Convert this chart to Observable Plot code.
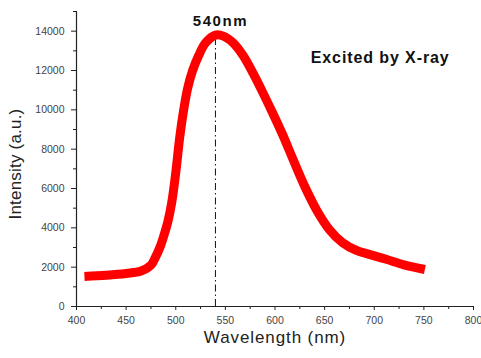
<!DOCTYPE html>
<html>
<head>
<meta charset="utf-8">
<script src="https://cdn.jsdelivr.net/npm/d3@7"></script>
<script src="https://cdn.jsdelivr.net/npm/@observablehq/plot@0.6"></script>
<style>
  html, body { margin: 0; padding: 0; background: #ffffff; }
  #chart svg { display: block; }
</style>
</head>
<body>
<div id="chart"></div>
<script>
// Emission spectrum
const wavelength = [408, 430, 450, 465, 475, 479, 484, 488, 492, 496, 500, 504, 508, 512, 517, 523, 530, 540, 548, 558, 568, 578, 588, 598, 608, 618, 630, 642, 655, 668, 682, 695, 712, 730, 751];
const intensity  = [1530, 1590, 1680, 1800, 2100, 2450, 3000, 3600, 4300, 5300, 6800, 8600, 10000, 11100, 12000, 12750, 13400, 13800, 13750, 13400, 12750, 11850, 10850, 9800, 8700, 7500, 6100, 4900, 3900, 3250, 2850, 2650, 2400, 2120, 1880];

const xMajorTicks = [400, 450, 500, 550, 600, 650, 700, 750, 800];
const xMinorTicks = [425, 475, 525, 575, 625, 675, 725, 775];
const yMajorTicks = [0, 2000, 4000, 6000, 8000, 10000, 12000, 14000];
const yMinorTicks = [1000, 3000, 5000, 7000, 9000, 11000, 13000, 15000];

const peakWavelength = 540;
const peakLineTop = 13690;
const peakLabel = "540nm";
const peakLabelY = 14520;
const noteText = "Excited by X-ray";
const noteX = 636;
const noteY = 12620;
const xTitle = "Wavelength (nm)";
const yTitle = "Intensity (a.u.)";

const data = wavelength.map((w, i) => ({w, v: intensity[i]}));

const font = "'Liberation Sans', Arial, sans-serif";

const chart = Plot.plot({
  width: 481,
  height: 358,
  marginLeft: 76,
  marginRight: 8,
  marginTop: 11,
  marginBottom: 52,
  style: {fontFamily: font, background: "#ffffff", color: "#222"},
  x: {domain: [400, 800]},
  y: {domain: [0, 15000]},
  marks: [
    Plot.axisX({ticks: xMajorTicks, tickSize: 4, tickPadding: 6, fontSize: 10.5, fill: "#444", label: null, tickFormat: d => String(d)}),
    Plot.axisX({ticks: xMinorTicks, tickSize: 3, tickFormat: () => "", label: null}),
    Plot.axisY({ticks: yMajorTicks, tickSize: 5, tickPadding: 7, fontSize: 10.5, fill: "#444", label: null, tickFormat: d => String(d)}),
    Plot.axisY({ticks: yMinorTicks, tickSize: 3, tickFormat: () => "", label: null}),
    Plot.ruleY([0], {stroke: "#222", strokeWidth: 1.2}),
    Plot.ruleX([400], {stroke: "#222", strokeWidth: 1.2}),
    Plot.ruleX([peakWavelength], {y1: 0, y2: peakLineTop, stroke: "#111", strokeWidth: 1, strokeDasharray: "7,3,1.5,3"}),
    Plot.line(data, {x: "w", y: "v", stroke: "#ff0000", strokeWidth: 9, curve: "catmull-rom", strokeLinecap: "butt"}),
    Plot.text([peakLabel], {x: peakWavelength, y: peakLabelY, text: d => d, dx: 5, fontSize: 15, fontWeight: "bold", fill: "#111"}),
    Plot.text([noteText], {x: noteX, y: noteY, text: d => d, textAnchor: "start", fontSize: 16, fontWeight: "bold", fill: "#111"}),
    Plot.text([xTitle], {frameAnchor: "bottom", text: d => d, dy: 36, fontSize: 17, fill: "#222"}),
    Plot.text([yTitle], {frameAnchor: "left", text: d => d, textAnchor: "middle", rotate: -90, dx: -61, dy: 5, fontSize: 17, fill: "#222"})
  ]
});

// letter spacing to match the wider lettering of the original
const spacing = new Map([[peakLabel, "1.6px"], [noteText, "0.9px"], [xTitle, "0.9px"], [yTitle, "0.2px"]]);
d3.select(chart).selectAll("text").each(function() {
  const t = this.textContent;
  if (spacing.has(t)) this.setAttribute("letter-spacing", spacing.get(t));
});

document.getElementById("chart").appendChild(chart);
</script>
</body>
</html>
